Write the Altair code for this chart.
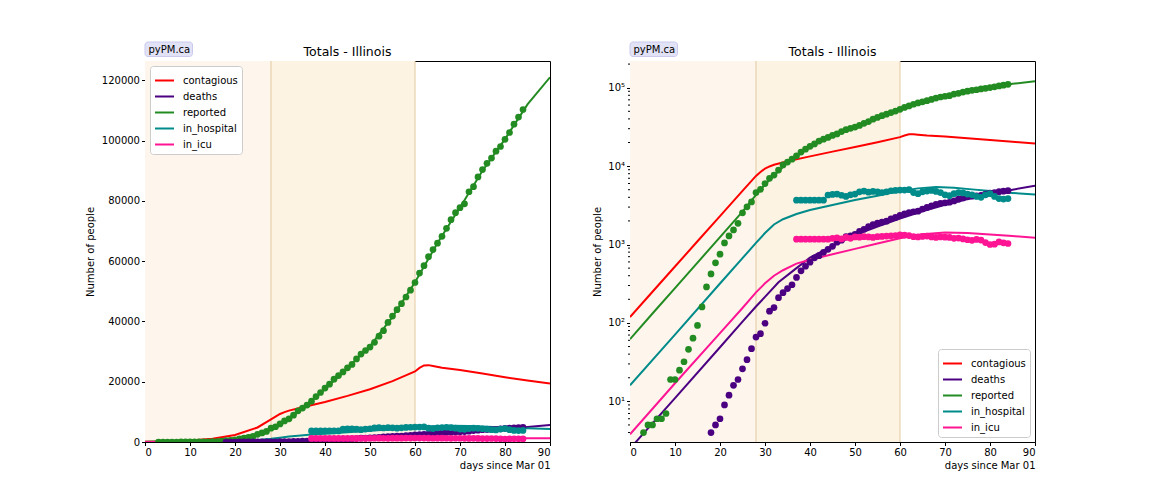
import altair as alt
import pandas as pd

# ---------------- data ----------------
series_names = ["contagious", "deaths", "reported", "in_hospital", "in_icu"]
series_colors = ["#ff0000", "#4b0082", "#228b22", "#008b8b", "#ff1493"]

# observed data (dots)
rep_days = list(range(3, 85))
rep_vals = [4, 5, 5, 6, 6, 7, 19, 19, 25, 32, 46, 64, 93, 160, 288, 422, 585, 753, 1049,
            1285, 1535, 1865, 2538, 3026, 3491, 4596, 5057, 5994, 6980, 7695, 8904, 10357,
            11256, 12262, 13549, 15078, 16422, 17887, 19180, 20852, 22025, 23247, 24593,
            25733, 27575, 29160, 30357, 31508, 33059, 35108, 36934, 39658, 41777, 43903,
            45883, 48102, 50355, 52918, 56055, 58505, 61499, 63840, 65962, 68232, 70873,
            73760, 76085, 77741, 79007, 83021, 84694, 87937, 90369, 92457, 94191, 96485,
            98030, 100418, 102686, 105444, 107796, 110304]

dth_days = list(range(18, 85))
dth_vals = [4, 5, 6, 9, 12, 16, 19, 26, 34, 47, 66, 73, 99, 141, 157, 210, 243, 274, 307,
            380, 462, 528, 596, 677, 720, 794, 868, 948, 1072, 1134, 1259, 1290, 1349, 1468,
            1565, 1688, 1795, 1874, 1933, 1983, 2125, 2215, 2355, 2457, 2559, 2618, 2662,
            2838, 2974, 3111, 3241, 3349, 3406, 3459, 3601, 3792, 3928, 4058, 4129, 4177,
            4234, 4379, 4525, 4607, 4715, 4790, 4856]

hosp_days = list(range(37, 85))
hosp_vals = [3680, 3680, 3680, 3680, 3680, 3680, 3680,
             4280, 4350, 4400, 4250, 4100, 4300, 4400, 4700, 4800, 4650,
             4750, 4700, 4600, 4700, 4850, 4900, 4950, 4950, 5000, 4600,
             4450, 4700, 4800, 4900, 4750, 4600, 4300, 4200, 4450, 4600,
             4550, 4400, 4300, 4100, 4000, 4300, 4450, 4100, 3850, 3800,
             3850]

icu_days = list(range(37, 85))
icu_vals = [1170, 1170, 1170, 1170, 1170, 1170, 1170, 1170,
            1200, 1220, 1180, 1230, 1200, 1250, 1240, 1260, 1250, 1230,
            1260, 1270, 1280, 1290, 1300, 1330, 1320, 1300, 1260, 1250,
            1270, 1280, 1250, 1230, 1250, 1240, 1230, 1200, 1210, 1180,
            1150, 1130, 1160, 1140, 1060, 1000, 1010, 1080, 1050, 1030]

# model curves (lines)
m_cont_days = [0, 5, 10, 15, 20, 25, 28, 29, 30, 31, 32, 35, 40, 45, 50, 55, 60, 61, 62, 63,
               64, 66, 70, 75, 80, 85, 90]
m_cont_vals = [119, 250, 524, 1100, 2300, 4820, 7500, 8400, 9300, 9900, 10400, 11500, 13300,
               15300, 17500, 20200, 23400, 24600, 25400, 25500, 25200, 24600, 23900, 22700,
               21500, 20400, 19400]

m_dth_days = [0, 10, 20, 25, 28, 30, 33, 37, 40, 45, 50, 55, 60, 65, 70, 75, 80, 85, 90]
m_dth_vals = [2.5, 11, 49, 104, 162, 215, 330, 500, 680, 960, 1320, 1700, 2150, 2650, 3200,
              3800, 4400, 5000, 5600]

m_rep_days = [0, 5, 10, 15, 20, 25, 28, 30, 32, 35, 40, 45, 50, 55, 60, 65, 70, 75, 80, 85, 90]
m_rep_vals = [62, 132, 278, 588, 1240, 2620, 4300, 5800, 7600, 11000, 17500, 24600, 31800,
              41500, 53000, 66000, 77800, 90000, 100500, 112000, 121000]

m_hosp_days = [0, 10, 20, 25, 28, 30, 32, 34, 37, 40, 45, 50, 55, 60, 64, 68, 72, 76, 80, 85, 90]
m_hosp_vals = [16, 71, 318, 670, 1050, 1400, 1800, 2100, 2450, 2750, 3200, 3700, 4200, 4800,
               5200, 5400, 5300, 5050, 4800, 4550, 4340]

m_icu_days = [0, 10, 20, 25, 28, 30, 32, 34, 37, 40, 45, 50, 55, 60, 65, 70, 75, 80, 85, 90]
m_icu_vals = [3.8, 17, 74, 155, 245, 320, 400, 470, 570, 640, 750, 880, 1030, 1200, 1350,
              1420, 1400, 1340, 1280, 1220]

band_start = [0, 28]
band_end = [28, 60]
log_major = [10, 100, 1000, 10000, 100000]
log_minor = [4, 5, 6, 7, 8, 9, 20, 30, 40, 50, 60, 70, 80, 90, 200, 300, 400, 500, 600, 700,
             800, 900, 2000, 3000, 4000, 5000, 6000, 7000, 8000, 9000, 20000, 30000, 40000,
             50000, 60000, 70000, 80000, 90000, 200000]

# ---------------- tables ----------------
def rows(name, d, v):
    assert len(d) == len(v), name
    return [{"day": a, "value": b, "series": name} for a, b in zip(d, v)]

model_df = pd.DataFrame(
    rows("contagious", m_cont_days, m_cont_vals)
    + rows("deaths", m_dth_days, m_dth_vals)
    + rows("reported", m_rep_days, m_rep_vals)
    + rows("in_hospital", m_hosp_days, m_hosp_vals)
    + rows("in_icu", m_icu_days, m_icu_vals)
)
obs_df = pd.DataFrame(
    rows("reported", rep_days, rep_vals)
    + rows("deaths", dth_days, dth_vals)
    + rows("in_hospital", hosp_days, hosp_vals)
    + rows("in_icu", icu_days, icu_vals)
)
band_df = pd.DataFrame({"start": band_start, "end": band_end})
minor_df = pd.DataFrame({"v": log_minor})
tag_df = pd.DataFrame({"label": ["pyPM.ca"]})

W, H = 405, 381
xscale = alt.Scale(domain=[0, 90], nice=False)
xaxis = alt.Axis(title="days since Mar 01", values=list(range(0, 100, 10)), titleAnchor="end",
                 titlePadding=3, tickSize=3.5, labelPadding=2, grid=False)


def panel(log):
    if log:
        yscale = alt.Scale(type="log", domain=[3.03, 219000], nice=False)
        yaxis = alt.Axis(
            title="Number of people", values=log_major, tickSize=3.5,
            labelPadding=2, titlePadding=5, grid=False,
            labelExpr="datum.value == 10 ? '10\u00b9' : datum.value == 100 ? '10\u00b2' : "
                      "datum.value == 1000 ? '10\u00b3' : datum.value == 10000 ? '10\u2074' : '10\u2075'")
        legend = alt.Legend(title=None, orient="bottom-right", offset=5)
    else:
        yscale = alt.Scale(domain=[0, 126400], nice=False, zero=True)
        yaxis = alt.Axis(title="Number of people", values=list(range(0, 140000, 20000)),
                         format="d", tickSize=3.5, labelPadding=2, titlePadding=6, grid=False)
        legend = alt.Legend(title=None, orient="top-left", offset=5)

    cscale = alt.Scale(domain=series_names, range=series_colors)

    band0 = alt.Chart(band_df.iloc[[0]]).mark_rect(color="#fef6ec").encode(
        x=alt.X("start:Q", scale=xscale, axis=xaxis), x2="end:Q",
        y=alt.value(0), y2=alt.value(H))
    band1 = alt.Chart(band_df.iloc[[1]]).mark_rect(color="#fdf3e2").encode(
        x=alt.X("start:Q", scale=xscale, axis=xaxis), x2="end:Q",
        y=alt.value(0), y2=alt.value(H))
    edges = alt.Chart(pd.DataFrame({"b": [band_end[0], band_end[1]]})).mark_rule(
        color="#e3c9a3", strokeWidth=1).encode(
        x=alt.X("b:Q", scale=xscale, axis=xaxis), y=alt.value(0), y2=alt.value(H))

    lines = alt.Chart(model_df).mark_line(strokeWidth=2, clip=True).encode(
        x=alt.X("day:Q", scale=xscale, axis=xaxis),
        y=alt.Y("value:Q", scale=yscale, axis=yaxis),
        color=alt.Color("series:N", scale=cscale, legend=legend, sort=series_names),
        detail="series:N",
    )
    points = alt.Chart(obs_df).mark_circle(size=45, opacity=1, clip=True).encode(
        x=alt.X("day:Q", scale=xscale, axis=xaxis),
        y=alt.Y("value:Q", scale=yscale, axis=yaxis),
        color=alt.Color("series:N", scale=cscale, legend=None),
    )
    tag_box = alt.Chart(tag_df).mark_rect(
        fill="#e2e2f7", stroke="#c9c9ee", strokeWidth=1, cornerRadius=3).encode(
        x=alt.value(0), x2=alt.value(47.5), y=alt.value(-19), y2=alt.value(-4.5))
    tag_text = alt.Chart(tag_df).mark_text(
        align="left", baseline="middle", fontSize=10, color="black").encode(
        x=alt.value(3.5), y=alt.value(-11.5), text="label:N")

    layers = [band0, band1, edges, lines, points]
    if log:
        minor = alt.Chart(minor_df).mark_rule(color="black", strokeWidth=1).encode(
            y=alt.Y("v:Q", scale=yscale, axis=yaxis), x=alt.value(-2), x2=alt.value(0))
        layers.append(minor)
    layers += [tag_box, tag_text]
    return alt.layer(*layers).properties(
        width=W, height=H,
        title=alt.TitleParams("Totals - Illinois", fontSize=12.5, fontWeight="normal",
                              anchor="middle", frame="group", offset=-17, color="black"),
    )


chart = alt.hconcat(panel(False), panel(True), spacing=41).resolve_scale(
    color="independent").resolve_legend(color="independent").properties(
    padding={"left": 76, "top": 33, "right": 5, "bottom": 5}
).configure(font="DejaVu Sans").configure_view(
    stroke="black", strokeWidth=1
).configure_axis(
    labelFontSize=10, titleFontSize=10, labelColor="black", titleColor="black",
    tickColor="black", domainColor="black", titleFontWeight="normal", labelFont="DejaVu Sans",
    titleFont="DejaVu Sans"
).configure_legend(
    labelFontSize=10, symbolType="stroke", symbolStrokeWidth=2, symbolSize=360,
    fillColor="white", strokeColor="#cccccc", cornerRadius=3, padding=4, rowPadding=0,
    labelOffset=8, labelColor="black"
)

chart.save("out.html", embed_options={"renderer": "svg", "actions": False})
